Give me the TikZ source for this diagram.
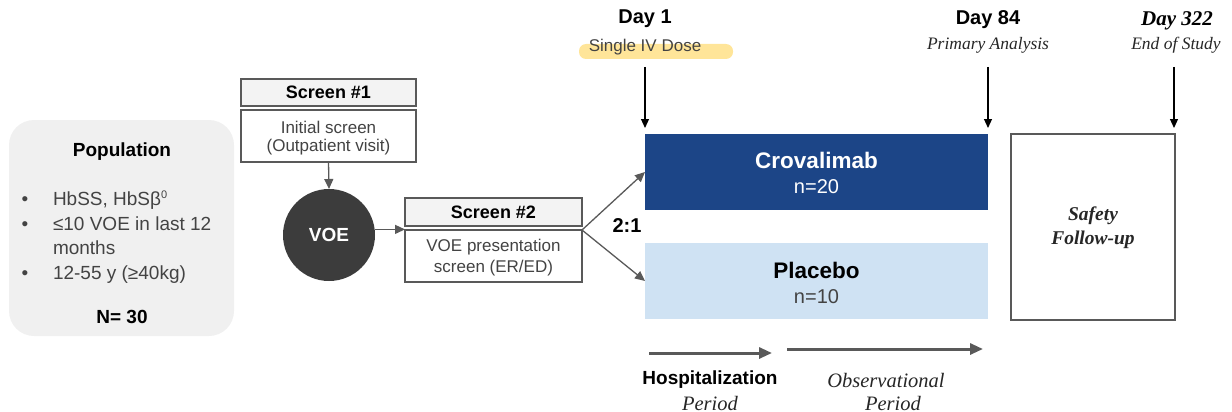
\documentclass[tikz,border=0pt]{standalone}
\usepackage{fontspec}
\setsansfont{Liberation Sans}
\setmainfont{Liberation Serif}
\usetikzlibrary{arrows.meta,calc}
\definecolor{navy}{HTML}{1C4587}
\definecolor{paleblue}{HTML}{CFE2F3}
\definecolor{hdrgray}{HTML}{F3F3F3}
\definecolor{popgray}{HTML}{F0F0F0}
\definecolor{edgegray}{HTML}{595959}
\definecolor{voegray}{HTML}{3C3C3C}
\definecolor{hilite}{HTML}{FFE599}
\definecolor{txtgray}{HTML}{434343}
\definecolor{sergray}{HTML}{262626}
\newcommand{\fsz}[1]{\fontsize{#1}{#1}\selectfont}
\begin{document}
\begin{tikzpicture}[x=1pt,y=-1pt,
  every node/.style={font=\sffamily, inner sep=0pt, outer sep=0pt},
  hdrbox/.style={draw=edgegray, line width=1.3pt, fill=hdrgray, minimum width=175pt, minimum height=27pt, font=\sffamily\bfseries\fsz{18}},
  bodybox/.style={draw=edgegray, line width=1.3pt, fill=white, minimum width=175pt, minimum height=52pt},
  bodytxt/.style={font=\sffamily\fsz{17}, text=txtgray},
  bullettxt/.style={anchor=base west, font=\sffamily\fsz{19}, text=txtgray},
  bulletdot/.style={anchor=base, font=\sffamily\fsz{19}, text=txtgray},
  armbox/.style={minimum width=343pt, minimum height=76pt},
  armname/.style={font=\sffamily\bfseries\fsz{22.5}},
  armcount/.style={font=\sffamily\fsz{20}},
  sertxt/.style={font=\rmfamily\itshape\fsz{17.5}, text=sergray},
  perlbl/.style={font=\rmfamily\itshape\fsz{20.5}, text=sergray},
  garrow/.style={draw=edgegray, line width=1.3pt, -{Triangle[length=10pt,width=9pt]}},
  tarrow/.style={draw=black, line width=1.2pt, -{Triangle[length=9pt,width=8pt]}, shorten >=6pt},
  parrow/.style={draw=edgegray, line width=3pt, -{Triangle[length=13pt,width=11pt]}}
]
\useasboundingbox (0,0) rectangle (1232,412);

% Population panel
\node[fill=popgray, rounded corners=25pt, minimum width=225pt, minimum height=216pt] (pop) at (121.5,228) {};
\node[font=\sffamily\bfseries\fsz{19}] (poptitle) at (122,152) {Population};
\node[bulletdot] (b1) at (25,205) {•};
\node[bullettxt] (l1) at (53,205) {HbSS, HbSβ\raisebox{7pt}{\fsz{11}0}};
\node[bulletdot] (b2) at (25,230) {•};
\node[bullettxt] (l2) at (53,230) {≤10 VOE in last 12};
\node[bullettxt] (l2b) at (53,254) {months};
\node[bulletdot] (b3) at (25,279) {•};
\node[bullettxt] (l3) at (53,279) {12-55 y (≥40kg)};
\node[font=\sffamily\bfseries\fsz{19}] (ntot) at (122,317) {N= 30};

% Screening steps
\node[hdrbox] (s1h) at (328.5,92.5) {Screen \#1};
\node[bodybox] (s1b) at (328.5,136) {};
\node[bodytxt] (s1t1) at (328.5,127) {Initial screen};
\node[bodytxt] (s1t2) at (328.5,147.5) {(Outpatient visit)};

\node[circle, fill=voegray, minimum size=92pt, font=\sffamily\bfseries\fsz{19}, text=white] (voe) at (329,235) {VOE};

\node[hdrbox, minimum width=177pt, minimum height=28pt] (s2h) at (493.5,212) {Screen \#2};
\node[bodybox, minimum width=177pt] (s2b) at (493.5,256) {};
\node[bodytxt] (s2t1) at (493.5,247.5) {VOE presentation};
\node[bodytxt] (s2t2) at (493.5,268.5) {screen (ER/ED)};

\draw[garrow] (s1b.south) -- (voe.north);
\draw[garrow] (voe.7) -- (voe.7 -| s2b.west);

% Treatment arms
\node[armbox, fill=navy] (crov) at (816.5,172) {};
\node[armname, text=white] (crovname) at (816.5,160) {Crovalimab};
\node[armcount, text=white] (crovn) at (816.5,187) {n=20};
\node[armbox, fill=paleblue] (plac) at (816.5,281) {};
\node[armname] (placname) at (816.5,270) {Placebo};
\node[armcount, text=txtgray] (placn) at (816.5,297) {n=10};

\draw[garrow] (s2b.north east) -- (crov.west);
\draw[garrow] (s2b.north east) -- (plac.west);
\node[font=\sffamily\bfseries\fsz{20}] (ratio) at (627,226) {2:1};

% Follow-up
\node[draw=edgegray, line width=2pt, minimum width=164pt, minimum height=186pt] (safe) at (1093,227) {};
\node[font=\rmfamily\bfseries\itshape\fsz{19.5}, text=sergray] (safe1) at (1093,216) {Safety};
\node[font=\rmfamily\bfseries\itshape\fsz{19.5}, text=sergray] (safe2) at (1093,240) {Follow-up};

% Timeline markers
\node[fill=hilite, rounded corners=7pt, minimum width=154pt, minimum height=15pt] (hl) at (656,51.5) {};
\node[font=\sffamily\bfseries\fsz{20}] (d1) at (645,19) {Day 1};
\node[font=\sffamily\fsz{17}, text=txtgray] (d1sub) at (645,47) {Single IV Dose};
\node[font=\sffamily\bfseries\fsz{20}] (d84) at (988,20) {Day 84};
\node[sertxt] (d84sub) at (988,45) {Primary Analysis};
\node[font=\rmfamily\bfseries\itshape\fsz{21}] (d322) at (1177,21) {Day 322};
\node[sertxt] (d322sub) at (1176,45) {End of Study};

\coordinate (d1top) at (645,67);
\coordinate (d84top) at (988,67);
\coordinate (d322top) at (1174,67);
\draw[tarrow] (d1top) -- (d1top |- crov.north);
\draw[tarrow] (d84top) -- (d84top |- crov.north);
\draw[tarrow] (d322top) -- (d322top |- safe.north);

% Study periods
\coordinate (hs) at (649,353);
\coordinate (he) at (772,353);
\coordinate (os) at (787,349);
\coordinate (oe) at (983,349);
\draw[parrow] (hs) -- (he);
\draw[parrow] (os) -- (oe);
\node[font=\sffamily\bfseries\fsz{19}] (hosp) at (710,380) {Hospitalization};
\node[perlbl] (hospper) at (710,403) {Period};
\node[perlbl] (obs) at (886,380) {Observational};
\node[perlbl] (obsper) at (893,403) {Period};
\end{tikzpicture}
\end{document}
